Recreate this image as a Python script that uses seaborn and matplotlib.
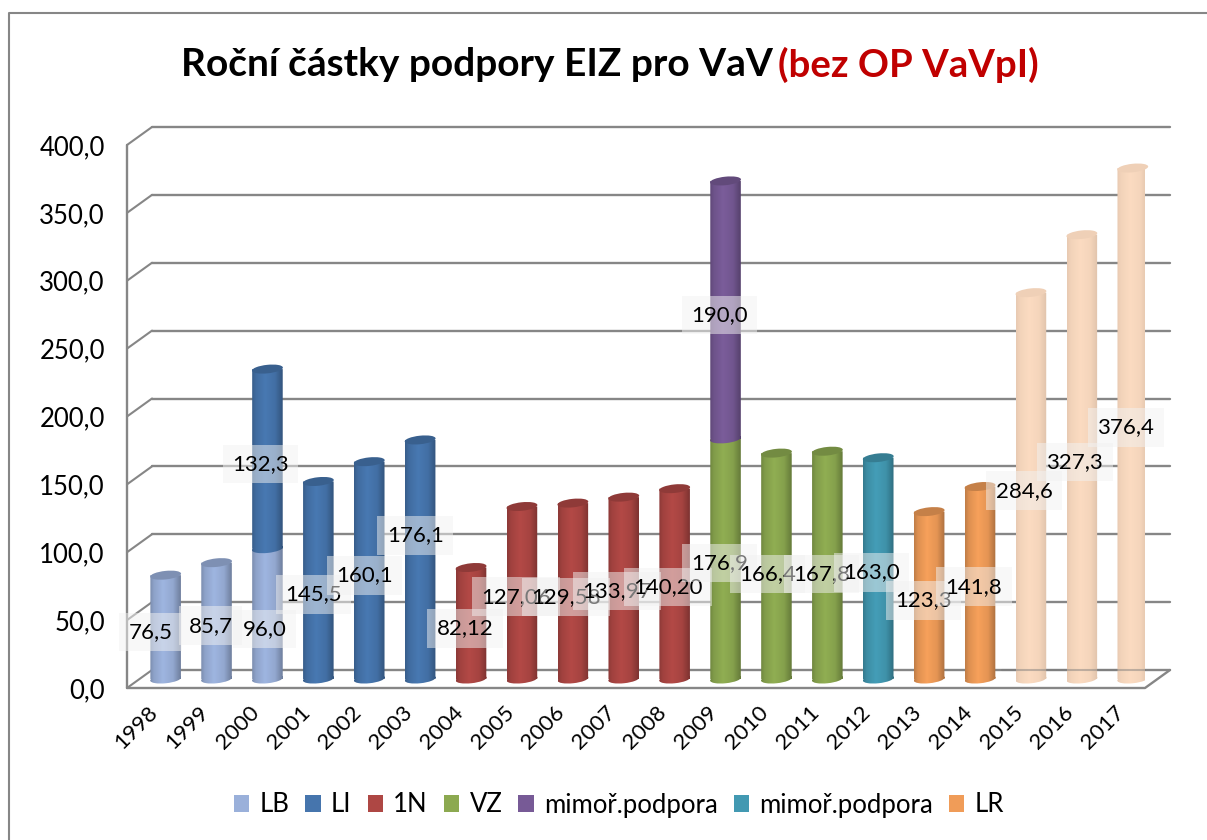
import numpy as np
import matplotlib
matplotlib.use("Agg")
import matplotlib.pyplot as plt
import matplotlib.colors as mc
import seaborn as sns
from matplotlib.collections import EllipseCollection
from matplotlib.patches import Patch
from matplotlib.path import Path
from matplotlib.transforms import Affine2D, IdentityTransform

years = [str(y) for y in range(1998, 2018)]

lb_years = ["1998", "1999", "2000"]
lb_values = [76.5, 85.7, 96.0]
li_years = ["2000", "2001", "2002", "2003"]
li_values = [132.3, 145.5, 160.1, 176.1]
n1_years = ["2004", "2005", "2006", "2007", "2008"]
n1_values = [82.12, 127.06, 129.58, 133.97, 140.20]
n1_text = ["82,12", "127,06", "129,58", "133,97", "140,20"]
vz_years = ["2009", "2010", "2011"]
vz_values = [176.9, 166.4, 167.8]
mim_years = ["2009"]
mim_values = [190.0]
mim2_years = ["2012"]
mim2_values = [163.0]
lr_years = ["2013", "2014"]
lr_values = [123.3, 141.8]
lr_plan_years = ["2015", "2016", "2017"]
lr_plan_values = [284.6, 327.3, 376.4]

C_LB, C_LI, C_1N, C_VZ = "#9AB0DA", "#4675AD", "#AE4744", "#8CA950"
C_MIM, C_MIM2, C_LR, C_PLAN = "#775A96", "#4299B2", "#F09C58", "#F9D9BF"

series = [
    ("LB", lb_years, lb_values, C_LB, None),
    ("LI", li_years, li_values, C_LI, None),
    ("1N", n1_years, n1_values, C_1N, n1_text),
    ("VZ", vz_years, vz_values, C_VZ, None),
    ("mimoř.podpora", mim_years, mim_values, C_MIM, None),
    ("mimoř.podpora", mim2_years, mim2_values, C_MIM2, None),
    ("LR", lr_years, lr_values, C_LR, None),
    ("", lr_plan_years, lr_plan_values, C_PLAN, None),
]

# label nudges in pixels from the middle of each bar segment, in drawing order
label_nudge = [(-15, -5), (-6, -5), (-3, -15),
               (-7, -5), (-5, -14), (-5, -5), (-5, 24),
               (-6, -5), (-6, -4), (-7, -6), (-7, -3), (-7, -3),
               (-6, -4), (-9, -8), (-6, -9),
               (-6, -5), (-7, -4), (-6, -5), (-6, -4),
               (-7, -5), (-7, -5), (-7, -4)]

W, H = 1207, 840
FONT = "Lato"
sns.set_style("white")
plt.rcParams["font.family"] = [FONT, "DejaVu Sans"]
plt.rcParams["text.color"] = "black"
plt.rcParams["xtick.color"] = "black"
plt.rcParams["ytick.color"] = "black"

fig = plt.figure(figsize=(W / 100, H / 100), dpi=100, facecolor="white")
L, R, T, B = 127, 1145, 145, 688
ax = fig.add_axes([L / W, 1 - B / H, (R - L) / W, (B - T) / H], facecolor="none")

# outer chart frame
fig.add_artist(plt.Line2D([9 / W, 9 / W, 1], [0, 1 - 12.5 / H, 1 - 12.5 / H],
                          color="#868686", lw=1.5, transform=fig.transFigure))

totals = {y: 0.0 for y in years}
segments = []
for name, ys, vals, col, txt in series:
    sns.barplot(x=ys, y=vals, order=years, color=col, saturation=1, width=0.6,
                ax=ax, errorbar=None, zorder=3)
    cont = ax.containers[-1]
    present = [p for p in cont.patches if p.get_height() > 0]
    for k, (p, y, v) in enumerate(zip(present, ys, vals)):
        p.set_y(totals[y])
        segments.append(dict(i=years.index(y), bottom=totals[y], v=v, col=col,
                             patch=p, text=(txt[k] if txt else f"{v:.1f}".replace(".", ","))))
        totals[y] += v

ax.set_xlim(-0.5, 19.5)
ax.set_ylim(0, 400)
fig.canvas.draw()

gx = 25 / ((R - L) / 20)
gy = 18 / ((B - T) / 400)
grid_c = "#868686"
ticks = np.arange(0, 401, 50)
for v in ticks:
    ax.plot([-0.5 + gx, 19.5 + gx], [v + gy, v + gy], color=grid_c, lw=1.7, zorder=1, clip_on=False)
    ax.plot([-0.5, -0.5 + gx], [v, v + gy], color=grid_c, lw=1.5, zorder=1, clip_on=False)
ax.plot([-0.5, -0.5], [0, 400], color=grid_c, lw=1.7, zorder=2, clip_on=False)
ax.plot([-0.5, 19.5, 19.5 + gx], [0, 0, gy], color=grid_c, lw=1.7, zorder=2, clip_on=False)

# cylinder look
bar_dx = 13.2
bar_dy = 9
to_bar = ax.transData + Affine2D().translate(bar_dx, bar_dy)
shade_x = np.linspace(0, 1, 64)
shade = np.interp(shade_x, [0, 0.12, 0.42, 0.75, 1], [0.80, 0.92, 1.03, 0.95, 0.72])
E_W, E_H, ell_ang = 31, 8.5, 6


def ell_path(cx, cy):
    t = Affine2D().scale(E_W / 2, E_H / 2).rotate_deg(ell_ang).translate(cx, cy)
    return Path.unit_circle().transformed(t)


for z, s in enumerate(sorted(segments, key=lambda q: q["bottom"])):
    p = s["patch"]
    p.set_transform(to_bar)
    p.set_clip_on(False)
    rgb = np.array(mc.to_rgb(s["col"]))
    pale = s["col"] == C_PLAN
    sh = 1 - (1 - shade) * 0.35 if pale else shade
    x0 = p.get_x()
    x1 = x0 + p.get_width()
    y0, y1 = s["bottom"], s["bottom"] + s["v"]
    (px0, py0), (px1, py1) = to_bar.transform([(x0, y0), (x1, y1)])
    cx = (px0 + px1) / 2
    rect = Path([(px0, py0), (px1, py0), (px1, py1), (px0, py1), (px0, py0)], closed=True)
    clip = Path.make_compound_path(rect, ell_path(cx, py0))
    img = np.clip(rgb[None, None, :] * sh[None, :, None], 0, 1)
    im = ax.imshow(img, aspect="auto", extent=(px0, px1, py0 - 10, py1 + 8),
                   transform=IdentityTransform(), interpolation="bilinear",
                   zorder=3 + z * 0.01 + 0.001)
    im.set_clip_path(clip, IdentityTransform())
    p.set_visible(False)
    if y1 == totals[years[s["i"]]]:
        factor = 0.96 if pale else 0.82
        cap = EllipseCollection([E_W * 0.72], [E_H * 0.72], [ell_ang], units="points",
                                offsets=[(s["i"], y1)], offset_transform=to_bar,
                                facecolors=[tuple(np.clip(rgb * factor, 0, 1))],
                                edgecolors="none", zorder=3.6)
        cap.set_clip_on(False)
        ax.add_collection(cap, autolim=False)
ax.set_xlim(-0.5, 19.5)
ax.set_ylim(0, 400)

# floor line shows through the pale bars
ax.plot([16 + 0.7, 19.5], [gy, gy], color="#777777", lw=1.5, alpha=0.45, zorder=3.7, clip_on=False)

# data labels
for s, (ndx, ndy) in zip(segments, label_nudge):
    mid = s["bottom"] + s["v"] / 2
    ax.annotate(s["text"], xy=(s["i"], mid), xycoords=to_bar,
                xytext=(ndx, ndy), textcoords="offset pixels", ha="center", va="center",
                fontsize=16, color="black", zorder=5, annotation_clip=False,
                bbox=dict(boxstyle="square,pad=0.42", fc="#F2F2F2", ec="none", alpha=0.5))

sns.despine(ax=ax, left=True, bottom=True, top=True, right=True)
ax.set_xlabel("")
ax.set_ylabel("")
ax.set_yticks(ticks)
ax.set_yticklabels([f"{v:.1f}".replace(".", ",") for v in ticks], fontsize=18.5)
ax.tick_params(axis="y", length=0, pad=16)
ax.set_xticks(range(20))
ax.set_xticklabels(years, rotation=45, ha="right", rotation_mode="anchor", fontsize=16)
ax.tick_params(axis="x", length=0, pad=10)
for lab in ax.get_xticklabels():
    lab.set_transform(lab.get_transform() + Affine2D().translate(-5, 0))

# title
title_y = 1 - 65 / H
fig.text(181 / W, title_y, "Roční částky podpory EIZ pro VaV", fontsize=28, fontweight="bold",
         color="black", va="center", ha="left")
fig.text(778 / W, title_y, "(bez OP VaVpI)", fontsize=27.6, fontweight="bold",
         color="#C00000", va="center", ha="left")

# legend
handles = [Patch(fc=c, ec="none") for _, _, _, c, _ in series[:7]]
labels = [n for n, *_ in series[:7]]
fig.legend(handles, labels, ncol=7, loc="center", bbox_to_anchor=(619 / W, 1 - 805 / H),
           frameon=False, fontsize=18.5, handlelength=0.6, handleheight=0.6,
           handletextpad=0.4, columnspacing=0.62)

fig.savefig("out.png", dpi=100, facecolor="white")
